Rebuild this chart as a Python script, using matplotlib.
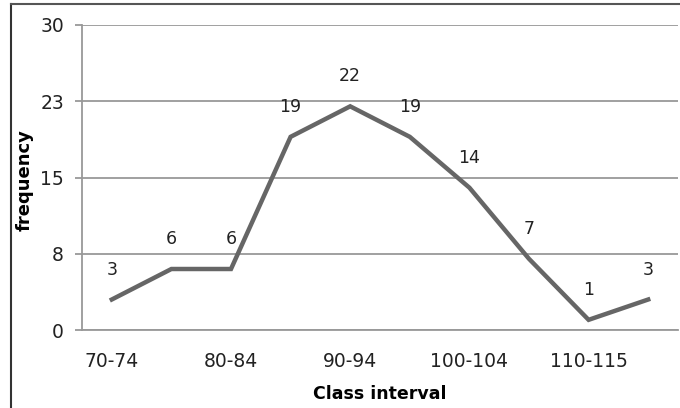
import matplotlib
matplotlib.use("Agg")
import matplotlib.pyplot as plt
from matplotlib.lines import Line2D

categories = ["70-74", "75-79", "80-84", "85-89", "90-94", "95-99",
              "100-104", "105-109", "110-115", "116-120"]
frequency = [3, 6, 6, 19, 22, 19, 14, 7, 1, 3]
y_ticks = [0, 7.5, 15, 22.5, 30]
y_tick_labels = ["0", "8", "15", "23", "30"]

fig = plt.figure(figsize=(6.8, 4.08), dpi=100)
ax = fig.add_axes([82/680, 1-330/408, (678-82)/680, (330-25)/408])

x = list(range(len(categories)))
ax.plot(x, frequency, color="#666666", lw=3.2, solid_joinstyle="miter", zorder=3)

for xi, v in zip(x, frequency):
    ax.annotate(str(v), (xi, v), xytext=(0, 21.5), textcoords="offset points",
                ha="center", va="center", fontsize=12.5, color="#222222")

ax.set_xlim(-0.5, len(categories) - 0.5)
ax.set_ylim(0, 30)
ax.set_yticks(y_ticks)
ax.set_yticklabels(y_tick_labels)
ax.set_xticks(x[::2])
ax.set_xticklabels(categories[::2])

ax.grid(axis="y", color="#999999", lw=1.3)
ax.set_axisbelow(True)
for s in ["top", "right"]:
    ax.spines[s].set_visible(False)
ax.spines["left"].set_color("#999999")
ax.spines["left"].set_linewidth(1.3)
ax.spines["bottom"].set_color("#999999")
ax.spines["bottom"].set_linewidth(1.3)

ax.tick_params(axis="y", length=5, width=1.3, color="#999999", pad=8,
               labelsize=13.5, labelcolor="#222222")
ax.tick_params(axis="x", length=0, pad=16, labelsize=13.5, labelcolor="#222222")

ax.set_xlabel("Class interval", fontsize=12.5, fontweight="bold", va="center")
ax.xaxis.set_label_coords(0.5, (330 - 394) / 305)
ax.set_ylabel("frequency", fontsize=13, fontweight="bold", va="center")
ax.yaxis.set_label_coords((25 - 82) / 596, (330 - 180) / 305)

# outer chart border (top and left visible)
fig.add_artist(Line2D([11/680, 11/680], [0, 1-4/408], transform=fig.transFigure,
                      color="#333333", lw=1.5))
fig.add_artist(Line2D([11/680, 1], [1-4/408, 1-4/408], transform=fig.transFigure,
                      color="#555555", lw=1.5))

fig.savefig("out.png", dpi=100)
